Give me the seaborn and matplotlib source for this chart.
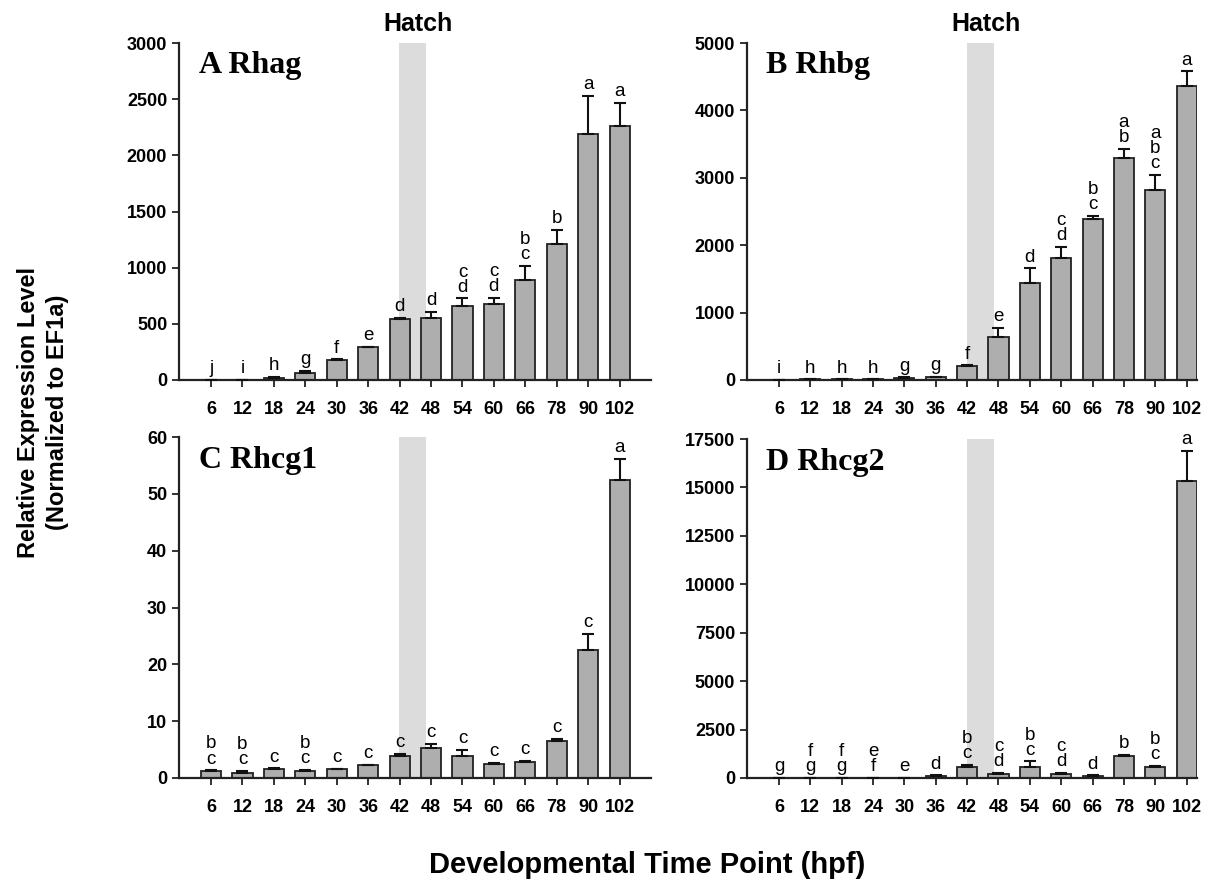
import numpy as np
import pandas as pd
import matplotlib
matplotlib.use("Agg")
import matplotlib.pyplot as plt
import matplotlib.transforms as mtransforms
import seaborn as sns

# time points (hpf)
hpf = [6, 12, 18, 24, 30, 36, 42, 48, 54, 60, 66, 78, 90, 102]

# A Rhag
rhag_mean = [3, 4, 20, 60, 178, 290, 540, 548, 658, 676, 889, 1207, 2188, 2262]
rhag_err = [0, 0, 5, 20, 5, 6, 10, 60, 68, 56, 128, 127, 338, 204]
rhag_letters = ['j', 'i', 'h', 'g', 'f', 'e', 'd', 'd', 'c\nd', 'c\nd', 'b\nc', 'b', 'a', 'a']

# B Rhbg
rhbg_mean = [5, 8, 8, 8, 35, 40, 212, 632, 1433, 1813, 2386, 3295, 2816, 4358]
rhbg_err = [0, 0, 0, 0, 5, 5, 5, 144, 222, 163, 45, 139, 223, 222]
rhbg_letters = ['i', 'h', 'h', 'h', 'g', 'g', 'f', 'e', 'd', 'c\nd', 'b\nc', 'a\nb', 'a\nb\nc', 'a']

# C Rhcg1
rhcg1_mean = [1.2, 0.95, 1.6, 1.2, 1.5, 2.2, 3.9, 5.3, 3.8, 2.5, 2.9, 6.5, 22.6, 52.5]
rhcg1_err = [0.15, 0.35, 0.1, 0.2, 0.15, 0.1, 0.3, 0.75, 1.1, 0.1, 0.1, 0.4, 2.7, 3.7]
rhcg1_letters = ['b\nc', 'b\nc', 'c', 'b\nc', 'c', 'c', 'c', 'c', 'c', 'c', 'c', 'c', 'c', 'a']

# D Rhcg2
rhcg2_mean = [10, 20, 20, 15, 20, 120, 570, 190, 570, 200, 120, 1140, 550, 15345]
rhcg2_err = [0, 0, 0, 0, 0, 20, 120, 85, 290, 75, 20, 60, 70, 1555]
rhcg2_letters = ['g', 'f\ng', 'f\ng', 'e\nf', 'e', 'd', 'b\nc', 'c\nd', 'b\nc', 'c\nd', 'd', 'b', 'b\nc', 'a']

hatch_hpf = 42

panels = [
    ('A Rhag', rhag_mean, rhag_err, rhag_letters, 3000, 500, True),
    ('B Rhbg', rhbg_mean, rhbg_err, rhbg_letters, 5000, 1000, True),
    ('C Rhcg1', rhcg1_mean, rhcg1_err, rhcg1_letters, 60, 10, False),
    ('D Rhcg2', rhcg2_mean, rhcg2_err, rhcg2_letters, 17500, 2500, False),
]

sns.set_style("ticks")
plt.rcParams['font.family'] = ['Liberation Sans', 'DejaVu Sans']
plt.rcParams['text.color'] = 'black'
plt.rcParams['xtick.color'] = 'black'
plt.rcParams['ytick.color'] = 'black'

W, H = 1218, 884
fig = plt.figure(figsize=(W / 100, H / 100), dpi=100)

# axes boxes in pixels (left, top, right, bottom) and x limits
boxes = [
    (179, 43, 651, 380, 14.0),
    (747, 43, 1197, 380, 13.33),
    (179, 437, 651, 778, 14.0),
    (747, 439, 1197, 778, 13.33),
]

for (title, mean, err, letters, ymax, ystep, show_hatch), (l, t, r, b, xr) in zip(panels, boxes):
    ax = fig.add_axes([l / W, (H - b) / H, (r - l) / W, (b - t) / H])
    df = pd.DataFrame({'hpf': hpf, 'value': mean})
    sns.barplot(data=df, x='hpf', y='value', color='#aeaeae', edgecolor='#222222',
                linewidth=1.3, width=0.64, saturation=1, ax=ax, zorder=2)
    pos = np.arange(len(hpf))
    ax.errorbar(pos, mean, yerr=[np.zeros(len(err)), err], fmt='none', ecolor='#111111',
                elinewidth=1.5, capsize=4.5, capthick=1.5, zorder=3)

    # hatch shading between 42 and 48 hpf
    i = hpf.index(hatch_hpf)
    ax.axvspan(i - 0.02, i + 0.85, color='#dcdcdc', zorder=0, lw=0)
    if show_hatch:
        trans = mtransforms.blended_transform_factory(ax.transData, ax.transAxes)
        ax.text(i + 0.6, 1.055, 'Hatch', transform=trans, ha='center', va='center',
                fontsize=18, fontweight='bold')

    # significance letters
    for x, m, e, lab in zip(pos, mean, err, letters):
        ax.annotate(lab, (x, m + e), xytext=(0, 2), textcoords='offset points',
                    ha='center', va='bottom', fontsize=13.5, linespacing=0.85)

    ax.text(0.043, 0.91, title, transform=ax.transAxes, fontsize=23, fontweight='bold',
            family=['Liberation Serif', 'DejaVu Serif'], va='baseline')

    ax.set_xlim(-1.02, xr)
    ax.set_ylim(0, ymax)
    ax.set_yticks(np.arange(0, ymax + 1, ystep))
    ax.set_xlabel('')
    ax.set_ylabel('')
    ax.tick_params(axis='both', labelsize=13, width=1.3, length=5, color='#222222')
    for lab in ax.get_xticklabels() + ax.get_yticklabels():
        lab.set_fontweight('bold')
    ax.tick_params(axis='x', pad=10)
    sns.despine(ax=ax)
    for s in ['left', 'bottom']:
        ax.spines[s].set_linewidth(1.6)
        ax.spines[s].set_color('#222222')

fig.text(43 / W, (H - 412) / H, 'Relative Expression Level\n(Normalized to EF1a)',
         rotation=90, ha='center', va='center', fontsize=17, fontweight='bold', linespacing=1.35)
fig.text(647 / W, (H - 865) / H, 'Developmental Time Point (hpf)',
         ha='center', va='center', fontsize=21, fontweight='bold')

fig.savefig('out.png', dpi=100)
